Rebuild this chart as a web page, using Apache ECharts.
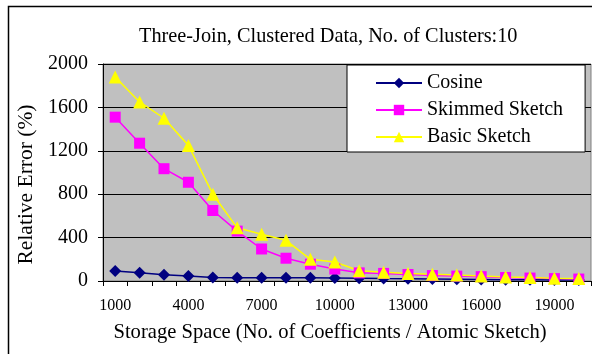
<!DOCTYPE html>
<html>
<head>
<meta charset="utf-8">
<script src="https://cdn.jsdelivr.net/npm/echarts@6/dist/echarts.min.js"></script>
<style>
html,body{margin:0;padding:0;background:#fff;}
#chart{width:592px;height:354px;}
</style>
</head>
<body>
<div id="chart"></div>
<script>
var categories = ['1000','2000','3000','4000','5000','6000','7000','8000','9000','10000',
                  '11000','12000','13000','14000','15000','16000','17000','18000','19000','20000'];
var cosine  = [92, 77, 58, 46, 32, 30, 30, 30, 30, 28, 25, 22, 20, 18, 16, 14, 12, 11, 10, 10];
var skimmed = [1510, 1270, 1035, 910, 650, 460, 295, 210, 155, 110, 75, 70, 60, 50, 45, 40, 32, 27, 22, 18];
var basic   = [1880, 1650, 1500, 1250, 800, 490, 430, 375, 200, 175, 95, 80, 70, 62, 56, 45, 38, 32, 26, 22];
var yTicks  = [0, 400, 800, 1200, 1600, 2000];

var serif = '"Liberation Serif", "DejaVu Serif", serif';
var chart = echarts.init(document.getElementById('chart'), null, {renderer: 'canvas'});
chart.setOption({
  animation: false,
  backgroundColor: '#fff',
  title: {
    text: 'Three-Join, Clustered Data, No. of Clusters:10',
    left: 134, top: 22,
    textStyle: {fontFamily: serif, fontSize: 20.3, fontWeight: 'normal', color: '#000'}
  },
  graphic: [{
    type: 'rect', silent: true, z: 100,
    shape: {x: 8.5, y: 6.5, width: 700, height: 500},
    style: {fill: 'none', stroke: '#000', lineWidth: 1.5}
  }],
  legend: {
    orient: 'vertical',
    left: 347, top: 65,
    padding: [8, 22, 5, 28],
    itemWidth: 46, itemHeight: 13, itemGap: 7,
    backgroundColor: '#fff', borderColor: '#000', borderWidth: 1,
    textStyle: {fontFamily: serif, fontSize: 20, color: '#000', lineHeight: 20},
    data: ['Cosine', 'Skimmed Sketch', 'Basic Sketch']
  },
  grid: {
    left: 103, top: 64, right: 1, bottom: 73,
    show: true, backgroundColor: '#C0C0C0', borderColor: '#808080', borderWidth: 1
  },
  xAxis: {
    type: 'category', data: categories, boundaryGap: true,
    axisLine: {lineStyle: {color: '#000', width: 1}},
    axisTick: {show: true, interval: 0, length: 5, lineStyle: {color: '#000'}},
    axisLabel: {interval: 2, margin: 17, fontFamily: serif, fontSize: 16, color: '#000'},
    name: 'Storage Space (No. of Coefficients / Atomic Sketch)',
    nameLocation: 'middle', nameGap: 41,
    nameTextStyle: {fontFamily: serif, fontSize: 20.6, color: '#000', padding: [0, 34, 0, 0]}
  },
  yAxis: {
    type: 'value', min: 0, max: 2000, interval: 400,
    axisLine: {show: true, lineStyle: {color: '#000', width: 1}},
    axisTick: {show: true, length: 5, lineStyle: {color: '#000'}},
    axisLabel: {margin: 15, fontFamily: serif, fontSize: 20, color: '#000',
      formatter: function (v) { return yTicks.indexOf(v) >= 0 ? String(v) : ''; }},
    splitLine: {show: true, lineStyle: {color: '#000', width: 1}},
    name: 'Relative Error (%)',
    nameLocation: 'middle', nameGap: 65,
    nameTextStyle: {fontFamily: serif, fontSize: 21.5, color: '#000', padding: [0, 24, 0, 0]}
  },
  series: [{
    name: 'Cosine', type: 'line', data: cosine,
    symbol: 'diamond', symbolSize: 12,
    lineStyle: {color: '#000080', width: 1.5},
    itemStyle: {color: '#000080'}
  }, {
    name: 'Skimmed Sketch', type: 'line', data: skimmed,
    symbol: 'rect', symbolSize: 11,
    lineStyle: {color: '#FF00FF', width: 1.5},
    itemStyle: {color: '#FF00FF'}
  }, {
    name: 'Basic Sketch', type: 'line', data: basic,
    symbol: 'triangle', symbolSize: 13,
    lineStyle: {color: '#FFFF00', width: 1.5},
    itemStyle: {color: '#FFFF00'}
  }]
});
</script>
</body>
</html>
